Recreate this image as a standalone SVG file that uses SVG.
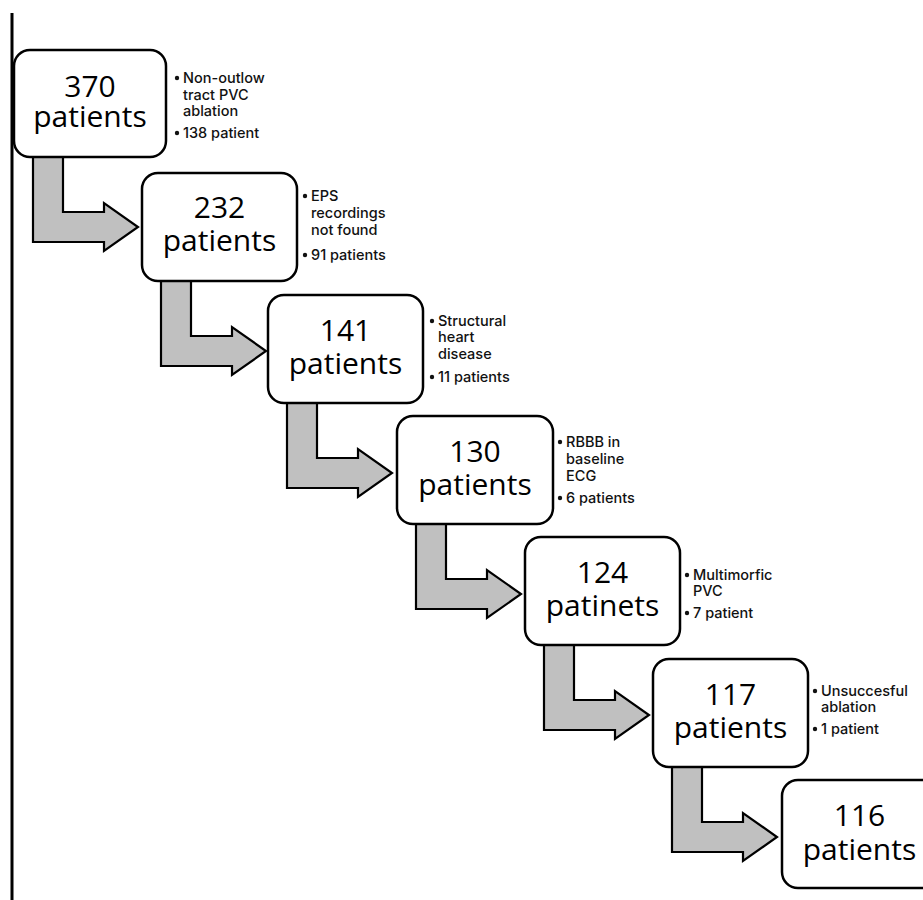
<svg xmlns="http://www.w3.org/2000/svg" width="923" height="900" viewBox="0 0 923 900">
<style>
.box{fill:#fff;stroke:#000;stroke-width:2.5}
.arr{fill:#c0c0c0;stroke:#000;stroke-width:2.2;stroke-linejoin:miter}
.big{font-family:"Open Sans","Liberation Sans",Arial,sans-serif;font-size:30px;fill:#000;text-anchor:middle}
.side{font-family:Inter,"Liberation Sans",Arial,sans-serif;font-size:14.5px;font-weight:500;fill:#111}
.dot{fill:#111}
</style>
<defs>
<path id="bent" d="M19,0 L49,0 L49,55 L90,55 L90,46 L124,70 L90,94 L90,85 L19,85 Z"/>
</defs>
<rect width="923" height="900" fill="#fff"/>
<line x1="12" y1="13" x2="12" y2="900" stroke="#000" stroke-width="3"/>
<g id="connectors">
<use href="#bent" class="arr" transform="translate(14,157)"/>
<use href="#bent" class="arr" transform="translate(142,281)"/>
<use href="#bent" class="arr" transform="translate(268,403)"/>
<use href="#bent" class="arr" transform="translate(397,524)"/>
<use href="#bent" class="arr" transform="translate(525,645)"/>
<use href="#bent" class="arr" transform="translate(653,767)"/>
</g>
<g id="n1">
<rect class="box" x="14" y="50" width="152" height="107" rx="16"/>
<text class="big" x="90" y="97">370</text>
<text class="big" x="90" y="127">patients</text>
<circle class="dot" cx="177" cy="78" r="2.2"/>
<text class="side" x="183" y="83">Non-outlow</text>
<text class="side" x="183" y="100">tract PVC</text>
<text class="side" x="183" y="116">ablation</text>
<circle class="dot" cx="177" cy="133" r="2.2"/>
<text class="side" x="183" y="138">138 patient</text>
</g>
<g id="n2">
<rect class="box" x="142" y="173" width="155" height="108" rx="16"/>
<text class="big" x="219.5" y="218">232</text>
<text class="big" x="219.5" y="251">patients</text>
<circle class="dot" cx="305" cy="196" r="2.2"/>
<text class="side" x="311" y="201">EPS</text>
<text class="side" x="311" y="218">recordings</text>
<text class="side" x="311" y="235">not found</text>
<circle class="dot" cx="305" cy="255" r="2.2"/>
<text class="side" x="311" y="260">91 patients</text>
</g>
<g id="n3">
<rect class="box" x="268" y="295" width="155" height="108" rx="16"/>
<text class="big" x="345.5" y="341">141</text>
<text class="big" x="345.5" y="374">patients</text>
<circle class="dot" cx="432" cy="321" r="2.2"/>
<text class="side" x="438" y="326">Structural</text>
<text class="side" x="438" y="342">heart</text>
<text class="side" x="438" y="359">disease</text>
<circle class="dot" cx="432" cy="377" r="2.2"/>
<text class="side" x="438" y="382">11 patients</text>
</g>
<g id="n4">
<rect class="box" x="397" y="416" width="156" height="108" rx="16"/>
<text class="big" x="475" y="462">130</text>
<text class="big" x="475" y="495">patients</text>
<circle class="dot" cx="560" cy="442" r="2.2"/>
<text class="side" x="566" y="447">RBBB in</text>
<text class="side" x="566" y="464">baseline</text>
<text class="side" x="566" y="481">ECG</text>
<circle class="dot" cx="560" cy="498" r="2.2"/>
<text class="side" x="566" y="503">6 patients</text>
</g>
<g id="n5">
<rect class="box" x="525" y="537" width="155" height="108" rx="16"/>
<text class="big" x="602.5" y="583">124</text>
<text class="big" x="602.5" y="616">patinets</text>
<circle class="dot" cx="687" cy="575" r="2.2"/>
<text class="side" x="693" y="580">Multimorfic</text>
<text class="side" x="693" y="596">PVC</text>
<circle class="dot" cx="687" cy="613" r="2.2"/>
<text class="side" x="693" y="618">7 patient</text>
</g>
<g id="n6">
<rect class="box" x="653" y="659" width="155" height="108" rx="16"/>
<text class="big" x="730.5" y="705">117</text>
<text class="big" x="730.5" y="738">patients</text>
<circle class="dot" cx="815" cy="691" r="2.2"/>
<text class="side" x="821" y="696">Unsuccesful</text>
<text class="side" x="821" y="712">ablation</text>
<circle class="dot" cx="815" cy="729" r="2.2"/>
<text class="side" x="821" y="734">1 patient</text>
</g>
<g id="n7">
<rect class="box" x="782" y="780" width="155" height="108" rx="16"/>
<text class="big" x="859.5" y="826">116</text>
<text class="big" x="859.5" y="860">patients</text>
</g>
</svg>
